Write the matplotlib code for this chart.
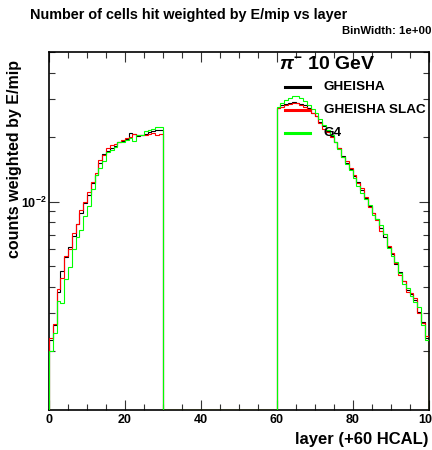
import numpy as np
import matplotlib
matplotlib.use("Agg")
import matplotlib.pyplot as plt
from matplotlib.lines import Line2D
from matplotlib.ticker import FixedLocator, NullFormatter, LogLocator, FuncFormatter

plt.rcParams['font.family'] = ['Liberation Sans', 'DejaVu Sans']
plt.rcParams['font.weight'] = 'bold'
plt.rcParams['mathtext.fontset'] = 'custom'
plt.rcParams['mathtext.rm'] = 'Liberation Sans:bold'
plt.rcParams['mathtext.bf'] = 'Liberation Sans:bold'
plt.rcParams['mathtext.it'] = 'Liberation Sans:bold:italic'

# ---- data (counts weighted by E/mip, in units of 1e-3) ----
n_bins = 100
ecal_start, hcal_start = 0, 60

black_ecal = [2.26, 2.65, 3.76, 4.71, 5.50, 6.16, 6.91, 7.86, 8.83, 9.83,
              10.74, 12.19, 13.3, 15.2, 16.65, 17.25, 17.88, 18.2, 19.07, 19.27,
              19.63, 20.8, 20.67, 20.3, 20.4, 20.67, 21.1, 21.4, 21.63, 21.63]
red_ecal = [2.30, 2.68, 3.91, 4.40, 5.54, 6.0, 7.13, 7.86, 9.15, 9.9,
            11.1, 12.4, 13.65, 15.66, 16.5, 17.75, 18.3, 18.6, 19.07, 19.35,
            19.8, 20.1, 20.67, 20.4, 20.5, 20.5, 20.67, 20.9, 20.5, 20.67]
green_ecal = [1.99, 2.43, 3.41, 3.37, 4.34, 4.94, 6.0, 6.86, 7.38, 8.6,
              9.5, 11.4, 13.3, 14.3, 15.4, 17.0, 17.44, 17.97, 18.95, 19.07,
              19.42, 19.9, 19.27, 20.4, 20.5, 21.4, 21.63, 21.8, 22.2, 22.2]

black_hcal = [27.4, 28.3, 28.6, 29.0, 29.25, 29.0, 28.6, 28.2, 27.3, 25.95,
              25.1, 23.5, 22.5, 21.3, 20.3, 19.07, 17.75, 16.3, 15.15, 14.2,
              13.1, 12.4, 11.34, 10.4, 9.5, 8.87, 8.25, 7.53, 6.84, 6.15,
              5.70, 5.12, 4.70, 4.27, 3.87, 3.71, 3.47, 3.05, 2.74, 2.30]
red_hcal = [27.3, 27.8, 28.3, 28.6, 28.8, 28.8, 28.3, 27.8, 26.8, 26.0,
            25.1, 23.3, 21.8, 21.1, 20.0, 19.07, 17.75, 16.1, 15.4, 14.3,
            13.3, 12.2, 11.6, 10.5, 9.45, 8.84, 8.21, 7.30, 7.07, 6.21,
            5.76, 5.18, 4.55, 4.27, 3.79, 3.75, 3.55, 3.02, 2.69, 2.35]
green_hcal = [27.8, 28.8, 29.7, 30.5, 31.0, 31.0, 30.5, 29.4, 28.3, 27.0,
              25.9, 24.3, 22.8, 21.5, 20.5, 19.07, 17.6, 16.2, 15.0, 14.06,
              12.9, 11.8, 11.0, 10.25, 9.66, 8.68, 8.29, 7.79, 7.07, 6.09,
              5.59, 5.24, 4.65, 4.10, 3.95, 3.63, 3.40, 3.20, 2.64, 2.26]

series_labels = ["GHEISHA", "GHEISHA SLAC", "G4"]
series_colors = ["#000000", "#ff0000", "#00ff00"]
x_ticks = [0, 20, 40, 60, 80, 100]
y_min, y_max = 1.06e-3, 5.0e-2


def build(ecal, hcal):
    v = np.zeros(n_bins)
    v[ecal_start:ecal_start + len(ecal)] = np.array(ecal) * 1e-3
    v[hcal_start:hcal_start + len(hcal)] = np.array(hcal) * 1e-3
    return v


series = [build(black_ecal, black_hcal), build(red_ecal, red_hcal),
          build(green_ecal, green_hcal)]
edges = np.arange(n_bins + 1)

W, H = 432, 450
fig = plt.figure(figsize=(W / 100, H / 100), dpi=100)
ax = fig.add_axes([49 / W, 1 - 410 / H, (428.5 - 49) / W, (410 - 52) / H])
ax.set_yscale('log')
ax.set_xlim(0, 100)
ax.set_ylim(y_min, y_max)

for k, (vals, col) in enumerate(zip(series, series_colors)):
    v = np.where(vals > 0, vals, y_min)
    ax.stairs(v, edges, baseline=y_min, color=col, lw=0.8, zorder=3 + 0.1 * k,
              antialiased=True, snap=True)

# ticks
ax.xaxis.set_major_locator(FixedLocator(x_ticks))
ax.xaxis.set_minor_locator(FixedLocator(np.arange(0, 101, 5)))
ax.yaxis.set_major_locator(LogLocator(base=10, numticks=10))
ax.yaxis.set_minor_locator(LogLocator(base=10, subs=np.arange(2, 10), numticks=10))
ax.yaxis.set_minor_formatter(NullFormatter())
ax.set_xticklabels([str(t) for t in x_ticks], fontsize=9, fontweight='bold')
ax.yaxis.set_major_formatter(FuncFormatter(
    lambda v, p: r'$\mathbf{10^{%d}}$' % int(round(np.log10(v)))))
ax.tick_params(which='both', direction='in', top=True, right=True,
               width=0.8, colors='#333333', labelcolor='black')
ax.tick_params(which='major', length=7.5, pad=3, labelsize=9)
ax.tick_params(axis='y', which='major', pad=2)
ax.tick_params(which='minor', length=4)
for sp in ax.spines.values():
    sp.set_linewidth(1.2)

ax.set_xlabel("layer (+60 HCAL)", fontsize=12, fontweight='bold')
ax.xaxis.set_label_coords(1.0, -0.062)
ax.xaxis.label.set_horizontalalignment('right')
ax.set_ylabel("counts weighted by E/mip", fontsize=11.5, fontweight='bold')
ax.yaxis.set_label_coords(-0.071, 0.978)
ax.yaxis.label.set_horizontalalignment('right')

fig.text(30 / W, 1 - 15 / H, "Number of cells hit weighted by E/mip vs layer",
         fontsize=10.4, fontweight='bold', ha='left', va='center')
fig.text(431 / W, 1 - 31 / H, "BinWidth: 1e+00", fontsize=8.2,
         fontweight='bold', ha='right', va='center')
fig.text(279 / W, 1 - 65 / H, r'$\pi^{-}$ 10 GeV', fontsize=14,
         fontweight='bold', ha='left', va='center')

# legend (no frame, ROOT TLegend style)
for i, (lab, col) in enumerate(zip(series_labels, series_colors)):
    yy = 1 - (87 + 23 * i) / H
    fig.add_artist(Line2D([285 / W, 310 / W], [yy, yy], color=col, lw=2.2,
                          transform=fig.transFigure))
    fig.text(324 / W, yy, lab, fontsize=9.7, fontweight='bold',
             ha='left', va='center')

fig.savefig("out.png", dpi=100)
